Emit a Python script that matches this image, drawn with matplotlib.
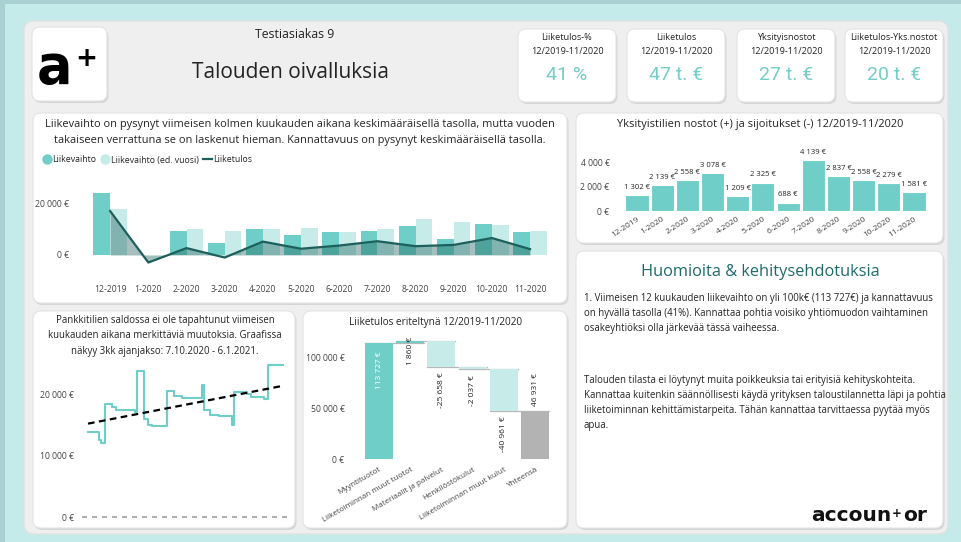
import numpy as np
import pandas as pd
import matplotlib
matplotlib.use("Agg")
import matplotlib.pyplot as plt
from matplotlib.patches import FancyBboxPatch, Rectangle
from matplotlib.lines import Line2D

W, H = 961, 542

# ---------------- data ----------------
months = ["12-2019", "1-2020", "2-2020", "3-2020", "4-2020", "5-2020",
          "6-2020", "7-2020", "8-2020", "9-2020", "10-2020", "11-2020"]
liikevaihto = [24200, 0, 9600, 4700, 10000, 7800, 9200, 9500, 11300, 6400, 12200, 9100]
liikevaihto_ed = [18100, 0, 10300, 9600, 10100, 10600, 9100, 10000, 14100, 12900, 11900, 9400]
liiketulos = [17200, -2950, 2700, -1000, 5250, 2450, 3700, 5400, 3450, 3950, 6650, 2300]

nostot = [1302, 2139, 2558, 3078, 1209, 2325, 688, 4139, 2837, 2558, 2279, 1581]

saldo_dates = ["2020-10-07", "2020-10-12", "2020-10-13", "2020-10-15", "2020-10-18",
               "2020-10-20", "2020-10-29", "2020-10-30", "2020-11-02", "2020-11-04",
               "2020-11-06", "2020-11-13", "2020-11-16", "2020-11-20", "2020-11-29",
               "2020-11-30", "2020-12-03", "2020-12-07", "2020-12-13", "2020-12-14",
               "2020-12-20", "2020-12-22", "2020-12-28", "2020-12-30", "2021-01-06"]
saldo_values = [13900, 12700, 12050, 18500, 18100, 17600, 17200, 23900, 16100, 15150,
                14850, 20650, 19750, 19450, 21600, 17550, 16750, 16600, 15000, 20450,
                20100, 19600, 19350, 24850, 24850]
trend_dates = ["2020-10-07", "2021-01-06"]
trend_values = [15300, 21500]

wf_labels = ["Myyntituotot", "Liiketoiminnan muut tuotot", "Materiaalit ja palvelut",
             "Henkilöstökulut", "Liiketoiminnan muut kulut", "Yhteensä"]
wf_values = [113727, 1860, -25658, -2037, -40961]

kpi_titles = ["Liiketulos-%", "Liiketulos", "Yksityisnostot", "Liiketulos-Yks.nostot"]
kpi_period = "12/2019-11/2020"
kpi_values = ["41 %", "47 t. €", "27 t. €", "20 t. €"]

# ---------------- style ----------------
plt.rcParams['font.family'] = ['Open Sans', 'DejaVu Sans']
TEAL = "#6fcfc8"
LIGHT = "#c6ebe8"
DARK = "#1d5f5c"
TXT = "#252423"
TICK = "#444444"
TICKSIZE = 6.2


def eur(v):
    return f"{v:,.0f} €".replace(",", " ")


fig = plt.figure(figsize=(W / 100, H / 100), dpi=100)
fig.patch.set_facecolor("#c4ebe9")

bg = fig.add_axes([0, 0, 1, 1])
bg.set_xlim(0, W)
bg.set_ylim(H, 0)
bg.axis("off")

bg.add_patch(Rectangle((0, 0), W, 4, color="#a9d1d3", lw=0))
bg.add_patch(Rectangle((0, 0), 5, H, color="#a9d1d3", lw=0))
bg.add_patch(FancyBboxPatch((24, 21), 924, 513, boxstyle="round,pad=0,rounding_size=10",
                            fc="#efefef", ec="#e2e2e2", lw=1))


def card(x0, y0, x1, y1, r=8):
    bg.add_patch(FancyBboxPatch((x0 + 1.5, y0 + 2), x1 - x0, y1 - y0,
                                boxstyle=f"round,pad=0,rounding_size={r}",
                                fc="#cfcfcf", ec="none", alpha=0.8))
    bg.add_patch(FancyBboxPatch((x0, y0), x1 - x0, y1 - y0,
                                boxstyle=f"round,pad=0,rounding_size={r}",
                                fc="white", ec="#e4e4e4", lw=0.8))


def px_axes(x0, y0, x1, y1):
    a = fig.add_axes([x0 / W, 1 - y1 / H, (x1 - x0) / W, (y1 - y0) / H])
    a.patch.set_alpha(0)
    for s in a.spines.values():
        s.set_visible(False)
    a.tick_params(length=0, labelsize=TICKSIZE, labelcolor=TICK)
    return a


# header
card(32, 27, 107, 101)
bg.text(37, 83, "a", fontsize=38, fontweight="bold", color="black", family="DejaVu Sans")
bg.text(75, 66, "+", fontsize=19, fontweight="bold", color="black", family="DejaVu Sans")
bg.text(295, 34, "Testiasiakas 9", ha="center", va="center", fontsize=8.8, color=TXT)
bg.text(290, 73, "Talouden oivalluksia", ha="center", va="center", fontsize=15, color=TXT)

kpi_x = [518, 627, 737, 845]
for x0, t, v in zip(kpi_x, kpi_titles, kpi_values):
    card(x0, 29, x0 + 98, 102)
    cx = x0 + 49
    bg.text(cx, 38, t, ha="center", va="center", fontsize=6.6, color=TXT)
    bg.text(cx, 51, kpi_period, ha="center", va="center", fontsize=6.6, color=TXT)
    bg.text(cx, 75, v, ha="center", va="center", fontsize=14, color="#74cdc6",
            family=["Liberation Sans Narrow", "Roboto"])

card(33, 113, 567, 303)
card(576, 113, 943, 243)
card(576, 251, 943, 528)
card(33, 311, 295, 528)
card(303, 311, 567, 528)

# ---------------- chart A: liikevaihto ----------------
bg.text(300, 124, "Liikevaihto on pysynyt viimeisen kolmen kuukauden aikana keskimääräisellä tasolla, mutta vuoden",
        ha="center", va="center", fontsize=7.9, color=TXT)
bg.text(300, 141, "takaiseen verrattuna se on laskenut hieman. Kannattavuus on pysynyt keskimääräisellä tasolla.",
        ha="center", va="center", fontsize=7.9, color=TXT)
handles = [Line2D([], [], marker="o", ls="", ms=6.5, color=TEAL),
           Line2D([], [], marker="o", ls="", ms=6.5, color=LIGHT),
           Line2D([], [], color=DARK, lw=1.6)]
fig.legend(handles, ["Liikevaihto", "Liikevaihto (ed. vuosi)", "Liiketulos"],
           loc="center left", bbox_to_anchor=(34 / W, 1 - 160 / H), ncol=3, frameon=False,
           fontsize=6.3, handlelength=1.1, handletextpad=0.1, columnspacing=0.45,
           labelcolor=TXT)

axA = px_axes(72, 180, 556, 268)
x = np.arange(len(months))
bw = 0.44
axA.bar(x - bw / 2, liikevaihto, width=bw, color=TEAL, zorder=2)
axA.bar(x + bw / 2, liikevaihto_ed, width=bw, color=LIGHT, zorder=2)
axA.fill_between(x, liiketulos, 0, color=DARK, alpha=0.4, lw=0, zorder=3)
axA.plot(x, liiketulos, color=DARK, lw=1.6, zorder=4)
axA.set_xlim(-1.0, 11.68)
axA.set_ylim(-5100, 29400)
axA.set_yticks([0, 20000])
axA.set_yticklabels([eur(v) for v in [0, 20000]])
axA.set_xticks(x)
axA.set_xticklabels(months)
axA.tick_params(axis="x", pad=12)
axA.tick_params(axis="y", pad=2)

# ---------------- chart B: yksityisnostot ----------------
bg.text(760, 125, "Yksityistilien nostot (+) ja sijoitukset (-) 12/2019-11/2020",
        ha="center", va="center", fontsize=7.9, color=TXT)
axB = px_axes(615, 140, 935, 213)
xb = np.arange(len(nostot))
axB.bar(xb, nostot, width=0.92, color=TEAL, edgecolor="white", lw=0.8)
for xi, v in zip(xb, nostot):
    axB.annotate(eur(v), (xi, v), xytext=(0, 3), textcoords="offset points",
                 ha="center", va="bottom", fontsize=5.5, color=TXT)
axB.set_xlim(-0.87, 11.83)
axB.set_ylim(-160, 5800)
axB.set_yticks([0, 2000, 4000])
axB.set_yticklabels([eur(v) for v in [0, 2000, 4000]])
axB.set_xticks(xb)
axB.set_xticklabels(months, rotation=33, ha="right", rotation_mode="anchor", fontsize=6)
axB.tick_params(axis="x", pad=2)
axB.tick_params(axis="y", pad=4)

# ---------------- chart C: huomioita ----------------
bg.text(760, 272, "Huomioita & kehitysehdotuksia", ha="center", va="center",
        fontsize=11.8, color="#1f6b6a")
p1 = ("1. Viimeisen 12 kuukauden liikevaihto on yli 100k€ (113 727€) ja kannattavuus\n"
      "on hyvällä tasolla (41%). Kannattaa pohtia voisiko yhtiömuodon vaihtaminen\n"
      "osakeyhtiöksi olla järkevää tässä vaiheessa.")
p2 = ("Talouden tilasta ei löytynyt muita poikkeuksia tai erityisiä kehityskohteita.\n"
      "Kannattaa kuitenkin säännöllisesti käydä yrityksen taloustilannetta läpi ja pohtia\n"
      "liiketoiminnan kehittämistarpeita. Tähän kannattaa tarvittaessa pyytää myös\n"
      "apua.")
bg.text(584, 293, p1, ha="left", va="top", fontsize=6.9, color=TXT, linespacing=1.5)
bg.text(584, 375, p2, ha="left", va="top", fontsize=6.9, color=TXT, linespacing=1.5)
t1 = bg.text(811, 521, "accoun", ha="left", va="baseline", fontsize=14.5, fontweight="bold",
             color="#111111", family="DejaVu Sans")
bg.annotate("+", xy=(1, 0), xycoords=t1, xytext=(0.5, 3.5), textcoords="offset points",
            ha="left", va="bottom", fontsize=8.5, fontweight="bold", color="#111111",
            family="DejaVu Sans")
bg.annotate("or", xy=(1, 0), xycoords=t1, xytext=(8.5, 0), textcoords="offset points",
            ha="left", va="bottom", fontsize=14.5, fontweight="bold", color="#111111",
            family="DejaVu Sans")

# ---------------- chart D: pankkitilit ----------------
bg.text(165, 336, "Pankkitilien saldossa ei ole tapahtunut viimeisen\n"
                  "kuukauden aikana merkittäviä muutoksia. Graafissa\n"
                  "näkyy 3kk ajanjakso: 7.10.2020 - 6.1.2021.",
        ha="center", va="center", fontsize=6.9, color=TXT, linespacing=1.55)
axD = px_axes(82, 360, 290, 520)
sd = pd.to_datetime(saldo_dates)
td = pd.to_datetime(trend_dates)
axD.plot(sd, saldo_values, drawstyle="steps-post", color=TEAL, lw=1.5)
axD.plot(td, trend_values, color="black", lw=1.6, ls=(0, (3, 2)))
axD.axhline(0, color="#a0a0a0", lw=1.2, ls=(0, (3, 3)))
axD.set_xlim(sd[0] - pd.Timedelta(days=2.8), sd[-1] + pd.Timedelta(days=3.3))
axD.set_ylim(-490, 25730)
axD.set_yticks([0, 10000, 20000])
axD.set_yticklabels([eur(v) for v in [0, 10000, 20000]])
axD.set_xticks([])
axD.tick_params(axis="y", pad=6)

# ---------------- chart E: waterfall ----------------
bg.text(436, 322, "Liiketulos eriteltynä 12/2019-11/2020", ha="center", va="center",
        fontsize=7.2, color=TXT)
axE = px_axes(350, 330, 555, 462)
ends = np.cumsum(wf_values)
starts = np.concatenate([[0], ends[:-1]])
total = ends[-1]
n = len(wf_labels)
bw = 0.9
for i, v in enumerate(wf_values):
    col = TEAL if v > 0 else LIGHT
    axE.bar(i, v, bottom=starts[i], width=bw, color=col, zorder=2)
axE.bar(n - 1, total, width=bw, color="#b3b3b3", zorder=2)
for i in range(n - 1):
    axE.plot([i - bw / 2, i + 1 + bw / 2], [ends[i], ends[i]], color="#b8b8b8", lw=0.9, zorder=1)
# value labels
axE.annotate(eur(wf_values[0]), (0, ends[0]), xytext=(0, -6), textcoords="offset points",
             rotation=90, ha="center", va="top", fontsize=6, color="white")
for i in range(1, len(wf_values)):
    if wf_values[i] > 0:
        ref, off = max(starts[i], ends[i]), 3
    else:
        ref, off = min(starts[i], ends[i]), -4
    axE.annotate(eur(wf_values[i]), (i, ref), xytext=(0, off),
                 textcoords="offset points", rotation=90, ha="center", va="top",
                 fontsize=6, color=TXT)
axE.annotate(eur(total), (n - 1, total), xytext=(0, 4), textcoords="offset points",
             rotation=90, ha="center", va="bottom", fontsize=6, color=TXT)
axE.set_xlim(-0.93, n - 1 + 0.64)
axE.set_ylim(-2900, 126500)
axE.set_yticks([0, 50000, 100000])
axE.set_yticklabels([eur(v) for v in [0, 50000, 100000]])
axE.set_xticks(np.arange(n))
axE.set_xticklabels(wf_labels, rotation=30, ha="right", rotation_mode="anchor", fontsize=5.8)
axE.tick_params(axis="x", pad=3)
axE.tick_params(axis="y", pad=4)

fig.savefig("out.png", dpi=100, facecolor=fig.get_facecolor())
